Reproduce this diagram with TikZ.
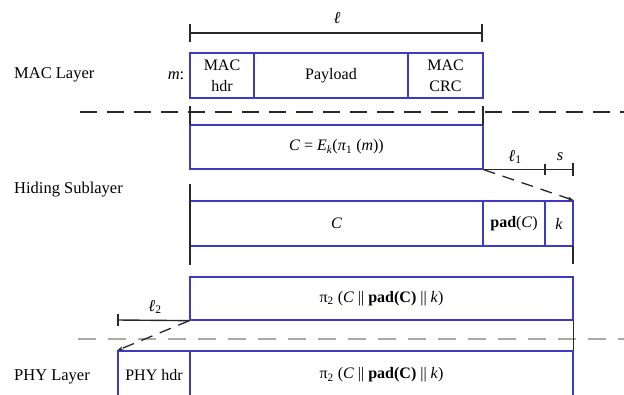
\documentclass[tikz,border=0pt]{standalone}
\usepackage{fontspec}
\setmainfont{Liberation Serif}
\usetikzlibrary{arrows.meta}
\definecolor{bl}{RGB}{62,58,196}
\definecolor{dgray}{RGB}{40,40,40}
\definecolor{lgray}{RGB}{170,170,170}
\tikzset{
  cell/.style={draw=bl, line width=1.3pt, inner sep=0pt, align=center, font=\fontsize{16}{21}\selectfont},
  dim/.style={draw=dgray, line width=1.4pt},
  lbl/.style={inner sep=0pt, font=\fontsize{16.5}{20}\selectfont},
  sep/.style={draw=dgray, line width=1.4pt, dash pattern=on 17pt off 10pt},
  sepg/.style={draw=lgray, line width=1.4pt, dash pattern=on 18pt off 12pt},
  darr/.style={draw=dgray, line width=1.3pt, dash pattern=on 12pt off 8pt, -{Stealth[length=6pt,width=4pt]}}
}
\begin{document}
\begin{tikzpicture}[x=1pt,y=-1pt]
\useasboundingbox (0,0) rectangle (624,394);
% layer labels
\node[lbl, anchor=west] (macl) at (14,75) {MAC Layer};
\node[lbl, anchor=west] (hidl) at (14,190) {Hiding Sublayer};
\node[lbl, anchor=west] (phyl) at (14,377) {PHY Layer};
\node[lbl] (mlab) at (176,76) {\textit{m}:};
% separators
\coordinate (s1a) at (80,112); \coordinate (s1b) at (624,112);
\draw[sep] (s1a) -- (s1b);
\coordinate (s2a) at (78,339); \coordinate (s2b) at (624,339);
\draw[sepg] (s2a) -- (s2b);
% MAC frame
\node[cell, minimum width=64pt, minimum height=45pt] (mhdr) at (222,75.5) {MAC\\hdr};
\node[cell, minimum width=154pt, minimum height=45pt] (mpay) at (331,75.5) {Payload};
\node[cell, minimum width=75pt, minimum height=45pt] (mcrc) at (445.5,75.5) {MAC\\CRC};
% l dimension
\coordinate (la) at (190,33); \coordinate (lb) at (482,33);
\coordinate (lat) at (190,24); \coordinate (lab) at (190,42);
\coordinate (lbt) at (482,24); \coordinate (lbb) at (482,42);
\draw[dim] (la) -- (lb);
\draw[dim] (lat) -- (lab);
\draw[dim] (lbt) -- (lbb);
\node[lbl] (ltxt) at (337,18) {\textit{ℓ}};
% encrypted box
\node[cell, minimum width=293pt, minimum height=44pt] (cbox) at (336.5,147) {\textit{C} = \textit{E}\textsubscript{\textit{k}}(\textit{π}\textsubscript{1} (\textit{m}))};
\coordinate (v1a) at (190,106); \coordinate (v1b) at (190,125);
\coordinate (v2a) at (483,106); \coordinate (v2b) at (483,125);
\draw[dim] (v1a) -- (v1b);
\draw[dim] (v2a) -- (v2b);
% l1 and s dimension
\coordinate (d1a) at (483,169.5); \coordinate (d1b) at (573,169.5);
\coordinate (d1m) at (545,169.5);
\coordinate (d1mt) at (545,164); \coordinate (d1mb) at (545,175);
\coordinate (d1et) at (573,163); \coordinate (d1eb) at (573,176);
\draw[dim] (d1a) -- (d1b);
\draw[dim] (d1mt) -- (d1mb);
\draw[dim] (d1et) -- (d1eb);
\node[lbl] (l1txt) at (515,157) {\textit{ℓ}\textsubscript{1}};
\node[lbl] (stxt) at (560,157) {\textit{s}};
% hiding box
\node[cell, minimum width=293pt, minimum height=45pt] (hc) at (336.5,223.5) {\textit{C}};
\node[cell, minimum width=62pt, minimum height=45pt] (hpad) at (514,223.5) {\textbf{pad}(\textit{C})};
\node[cell, minimum width=28pt, minimum height=45pt] (hk) at (559,223.5) {\textit{k}};
\draw[darr] (cbox.south east) -- (hk.north east);
\coordinate (v3a) at (190,184); \coordinate (v3b) at (190,265);
\coordinate (v4a) at (573,246); \coordinate (v4b) at (573,264);
\draw[dim] (v3a) -- (v3b);
\draw[dim] (v4a) -- (v4b);
% pi2 box
\node[cell, minimum width=383pt, minimum height=43pt] (pbox) at (381.5,298.5) {π\textsubscript{2} (\textit{C} || \textbf{pad(C)} || \textit{k})};
\coordinate (l2a) at (118,320); 
\coordinate (l2t) at (118,314); \coordinate (l2b) at (118,326);
\draw[dim] (l2a) -- (pbox.south west);
\draw[dim] (l2t) -- (l2b);
\node[lbl] (l2txt) at (155,307) {\textit{ℓ}\textsubscript{2}};
% PHY frame
\node[cell, minimum width=72pt, minimum height=48pt] (phdr) at (154,375) {PHY hdr};
\node[cell, minimum width=383pt, minimum height=48pt] (ppay) at (381.5,375) {π\textsubscript{2} (\textit{C} || \textbf{pad(C)} || \textit{k})};
\draw[darr] (pbox.south west) -- (phdr.north west);
\draw[dim] (pbox.south east) -- (ppay.north east);
\end{tikzpicture}
\end{document}
